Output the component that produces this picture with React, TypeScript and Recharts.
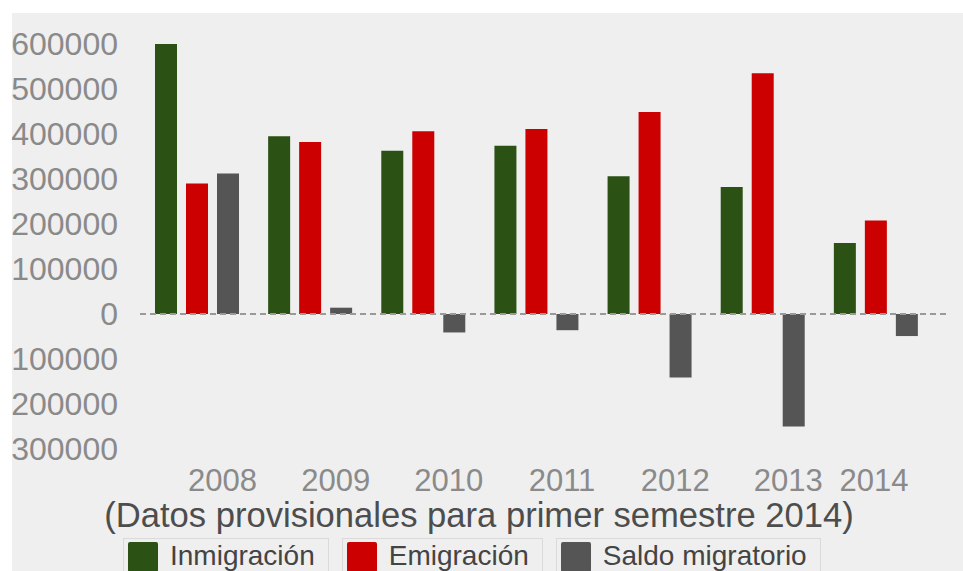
import { BarChart, Bar, XAxis, YAxis, ReferenceLine } from 'recharts'

const years = ['2008', '2009', '2010', '2011', '2012', '2013', '2014']
const inmigracion = [600000, 395000, 363000, 374000, 306000, 282000, 158000]
const emigracion = [290000, 382000, 406000, 411000, 449000, 535000, 208000]
const saldo = [312000, 14000, -41000, -36000, -141000, -250000, -49000]
const yTicks = [-300000, -200000, -100000, 0, 100000, 200000, 300000, 400000, 500000, 600000]

const series = [
  { key: 'inmigracion', name: 'Inmigración', color: '#2b5114' },
  { key: 'emigracion', name: 'Emigración', color: '#cc0000' },
  { key: 'saldo', name: 'Saldo migratorio', color: '#555555' },
]

const data = years.map((year, i) => ({
  year,
  inmigracion: inmigracion[i],
  emigracion: emigracion[i],
  saldo: saldo[i],
}))

const W = 963
const H = 571
const FONT = '"Liberation Sans", Arial, sans-serif'

// year labels sit a bit right of the group centre, the last one is pushed back inside
function YearTick({ x, y, payload }: any) {
  const cx = Math.min(x + 26, W - 89)
  return (
    <text x={cx} y={y} dy="0.71em" textAnchor="middle" fill="#8a8a8a" fontSize={31} fontFamily={FONT}>
      {payload.value}
    </text>
  )
}

function ValueTick({ x, y, payload }: any) {
  return (
    <text x={x} y={y} dy="0.355em" textAnchor="end" fill="#8a8a8a" fontSize={32} fontFamily={FONT}>
      {Math.abs(payload.value)}
    </text>
  )
}

export default function App() {
  return (
    <div style={{ position: 'absolute', left: 0, top: 0, width: W, height: H, background: '#fff', overflow: 'hidden' }}>
      <div style={{ position: 'absolute', left: 12, top: 13, width: W - 12, height: H - 13, background: '#efefef' }} />
      <div style={{ position: 'absolute', left: 0, top: 0 }}>
        <BarChart width={W} height={H} data={data} margin={{ top: 44, right: 16, bottom: 0, left: 0 }} barSize={22} barGap={9}>
          <XAxis
            dataKey="year"
            height={122}
            axisLine={false}
            tickLine={false}
            tickSize={0}
            tickMargin={20}
            padding={{ left: 0, right: 15 }}
            interval={0}
            tick={<YearTick />}
          />
          <YAxis
            width={140}
            domain={[-300000, 600000]}
            ticks={yTicks}
            interval={0}
            axisLine={false}
            tickLine={false}
            tickSize={0}
            tickMargin={22}
            tick={<ValueTick />}
          />
          {series.map((s) => (
            <Bar key={s.key} dataKey={s.key} name={s.name} fill={s.color} isAnimationActive={false} />
          ))}
          <ReferenceLine y={0} stroke="#9a9a9a" strokeWidth={2} strokeDasharray="6 4" />
        </BarChart>
      </div>
      <div
        style={{
          position: 'absolute',
          left: 0,
          top: 498,
          width: 958,
          textAlign: 'center',
          fontFamily: FONT,
          fontSize: 34.6,
          lineHeight: '34px',
          color: '#4d4d4d',
          whiteSpace: 'nowrap',
        }}
      >
        (Datos provisionales para primer semestre 2014)
      </div>
      <div style={{ position: 'absolute', left: 123, top: 538, display: 'flex', gap: 13 }}>
        {series.map((s) => (
          <div
            key={s.key}
            style={{
              display: 'flex',
              alignItems: 'flex-start',
              gap: 12,
              border: '1px solid #dadada',
              padding: '3px 13px 6px 4px',
              fontFamily: FONT,
              fontSize: 28,
              lineHeight: '28px',
              color: '#444',
              whiteSpace: 'nowrap',
            }}
          >
            <span style={{ display: 'inline-block', width: 30, height: 30, background: s.color, borderRadius: 2 }} />
            <span>{s.name}</span>
          </div>
        ))}
      </div>
    </div>
  )
}
